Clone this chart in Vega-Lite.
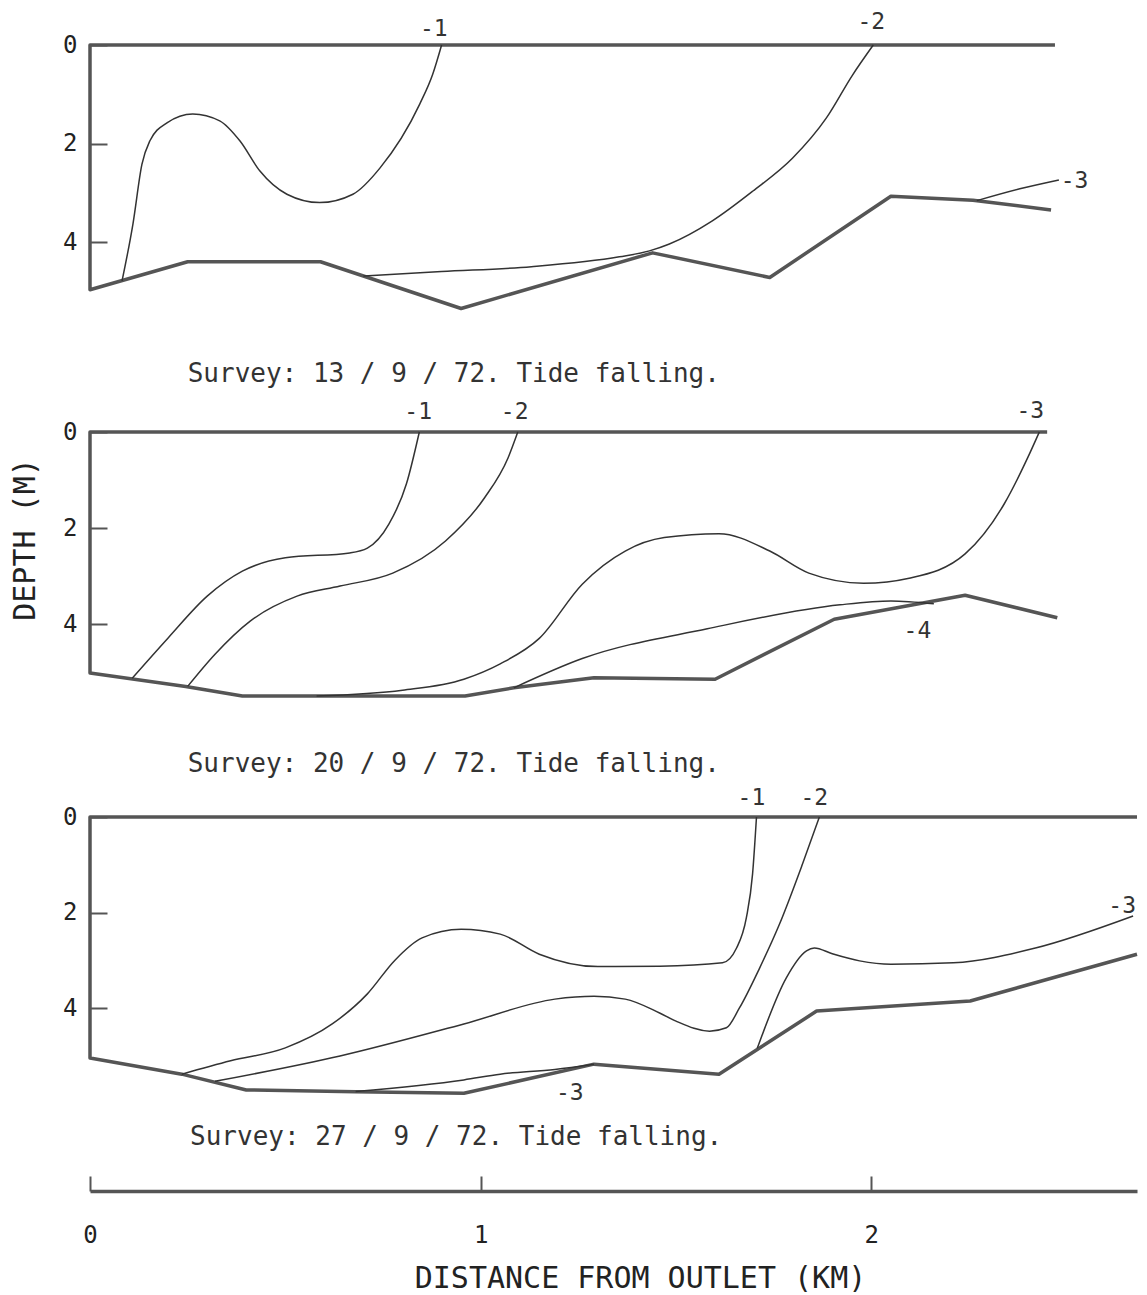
{
  "$schema": "https://vega.github.io/schema/vega-lite/v6.json",
  "background": "white",
  "padding": {"left": 10, "top": 10, "right": 5, "bottom": 5},
  "bounds": "flush",
  "spacing": 100,
  "config": {
    "view": {"stroke": null},
    "font": "DejaVu Sans Mono",
    "axis": {"grid": false, "labelColor": "#222", "titleColor": "#222", "titleFontWeight": "normal", "labelFlush": false}
  },
  "datasets": {
    "lines": [
      {"p":1,"s":"f","i":0,"x":2.47,"d":0},{"p":1,"s":"f","i":1,"x":0,"d":0},{"p":1,"s":"f","i":2,"x":0,"d":4.97},{"p":1,"s":"f","i":3,"x":0.25,"d":4.4},{"p":1,"s":"f","i":4,"x":0.59,"d":4.4},{"p":1,"s":"f","i":5,"x":0.95,"d":5.35},{"p":1,"s":"f","i":6,"x":1.44,"d":4.22},{"p":1,"s":"f","i":7,"x":1.74,"d":4.72},{"p":1,"s":"f","i":8,"x":2.05,"d":3.07},{"p":1,"s":"f","i":9,"x":2.26,"d":3.15},{"p":1,"s":"f","i":10,"x":2.46,"d":3.35},
      {"p":1,"s":"c1","i":0,"x":0.082,"d":4.79},{"p":1,"s":"c1","i":1,"x":0.11,"d":3.63},{"p":1,"s":"c1","i":2,"x":0.133,"d":2.42},{"p":1,"s":"c1","i":3,"x":0.153,"d":1.95},{"p":1,"s":"c1","i":4,"x":0.197,"d":1.58},{"p":1,"s":"c1","i":5,"x":0.263,"d":1.4},{"p":1,"s":"c1","i":6,"x":0.332,"d":1.54},{"p":1,"s":"c1","i":7,"x":0.384,"d":1.95},{"p":1,"s":"c1","i":8,"x":0.435,"d":2.56},{"p":1,"s":"c1","i":9,"x":0.504,"d":3.03},{"p":1,"s":"c1","i":10,"x":0.588,"d":3.2},{"p":1,"s":"c1","i":11,"x":0.673,"d":3.03},{"p":1,"s":"c1","i":12,"x":0.742,"d":2.5},{"p":1,"s":"c1","i":13,"x":0.844,"d":1.2},{"p":1,"s":"c1","i":14,"x":0.877,"d":0.6},{"p":1,"s":"c1","i":15,"x":0.9,"d":0},
      {"p":1,"s":"c2","i":0,"x":0.7,"d":4.69},{"p":1,"s":"c2","i":1,"x":0.9,"d":4.6},{"p":1,"s":"c2","i":2,"x":1.13,"d":4.5},{"p":1,"s":"c2","i":3,"x":1.355,"d":4.3},{"p":1,"s":"c2","i":4,"x":1.432,"d":4.18},{"p":1,"s":"c2","i":5,"x":1.483,"d":4.04},{"p":1,"s":"c2","i":6,"x":1.593,"d":3.57},{"p":1,"s":"c2","i":7,"x":1.696,"d":2.97},{"p":1,"s":"c2","i":8,"x":1.798,"d":2.3},{"p":1,"s":"c2","i":9,"x":1.885,"d":1.48},{"p":1,"s":"c2","i":10,"x":1.951,"d":0.62},{"p":1,"s":"c2","i":11,"x":2.005,"d":0},
      {"p":1,"s":"c3","i":0,"x":2.27,"d":3.16},{"p":1,"s":"c3","i":1,"x":2.38,"d":2.92},{"p":1,"s":"c3","i":2,"x":2.48,"d":2.74},

      {"p":2,"s":"f","i":0,"x":2.45,"d":0},{"p":2,"s":"f","i":1,"x":0,"d":0},{"p":2,"s":"f","i":2,"x":0,"d":5.02},{"p":2,"s":"f","i":3,"x":0.245,"d":5.3},{"p":2,"s":"f","i":4,"x":0.39,"d":5.5},{"p":2,"s":"f","i":5,"x":0.96,"d":5.5},{"p":2,"s":"f","i":6,"x":1.085,"d":5.33},{"p":2,"s":"f","i":7,"x":1.29,"d":5.12},{"p":2,"s":"f","i":8,"x":1.6,"d":5.15},{"p":2,"s":"f","i":9,"x":1.905,"d":3.9},{"p":2,"s":"f","i":10,"x":2.24,"d":3.4},{"p":2,"s":"f","i":11,"x":2.476,"d":3.87},
      {"p":2,"s":"c1","i":0,"x":0.108,"d":5.13},{"p":2,"s":"c1","i":1,"x":0.2,"d":4.29},{"p":2,"s":"c1","i":2,"x":0.3,"d":3.42},{"p":2,"s":"c1","i":3,"x":0.39,"d":2.9},{"p":2,"s":"c1","i":4,"x":0.5,"d":2.62},{"p":2,"s":"c1","i":5,"x":0.665,"d":2.52},{"p":2,"s":"c1","i":6,"x":0.71,"d":2.42},{"p":2,"s":"c1","i":7,"x":0.765,"d":1.92},{"p":2,"s":"c1","i":8,"x":0.81,"d":1.08},{"p":2,"s":"c1","i":9,"x":0.843,"d":0},
      {"p":2,"s":"c2","i":0,"x":0.25,"d":5.3},{"p":2,"s":"c2","i":1,"x":0.32,"d":4.63},{"p":2,"s":"c2","i":2,"x":0.41,"d":3.94},{"p":2,"s":"c2","i":3,"x":0.53,"d":3.42},{"p":2,"s":"c2","i":4,"x":0.64,"d":3.21},{"p":2,"s":"c2","i":5,"x":0.775,"d":2.94},{"p":2,"s":"c2","i":6,"x":0.91,"d":2.27},{"p":2,"s":"c2","i":7,"x":1.01,"d":1.37},{"p":2,"s":"c2","i":8,"x":1.07,"d":0.54},{"p":2,"s":"c2","i":9,"x":1.095,"d":0},
      {"p":2,"s":"c3","i":0,"x":0.58,"d":5.5},{"p":2,"s":"c3","i":1,"x":0.8,"d":5.38},{"p":2,"s":"c3","i":2,"x":0.957,"d":5.15},{"p":2,"s":"c3","i":3,"x":1.05,"d":4.83},{"p":2,"s":"c3","i":4,"x":1.15,"d":4.3},{"p":2,"s":"c3","i":5,"x":1.26,"d":3.17},{"p":2,"s":"c3","i":6,"x":1.37,"d":2.48},{"p":2,"s":"c3","i":7,"x":1.47,"d":2.2},{"p":2,"s":"c3","i":8,"x":1.61,"d":2.12},{"p":2,"s":"c3","i":9,"x":1.74,"d":2.48},{"p":2,"s":"c3","i":10,"x":1.84,"d":2.94},{"p":2,"s":"c3","i":11,"x":1.98,"d":3.15},{"p":2,"s":"c3","i":12,"x":2.1,"d":3.04},{"p":2,"s":"c3","i":13,"x":2.24,"d":2.54},{"p":2,"s":"c3","i":14,"x":2.34,"d":1.5},{"p":2,"s":"c3","i":15,"x":2.4,"d":0.54},{"p":2,"s":"c3","i":16,"x":2.43,"d":0},
      {"p":2,"s":"c4","i":0,"x":1.085,"d":5.33},{"p":2,"s":"c4","i":1,"x":1.26,"d":4.72},{"p":2,"s":"c4","i":2,"x":1.58,"d":4.1},{"p":2,"s":"c4","i":3,"x":1.92,"d":3.6},{"p":2,"s":"c4","i":4,"x":2.05,"d":3.52},{"p":2,"s":"c4","i":5,"x":2.16,"d":3.58},

      {"p":3,"s":"f","i":0,"x":2.68,"d":0},{"p":3,"s":"f","i":1,"x":0,"d":0},{"p":3,"s":"f","i":2,"x":0,"d":5.04},{"p":3,"s":"f","i":3,"x":0.235,"d":5.38},{"p":3,"s":"f","i":4,"x":0.4,"d":5.71},{"p":3,"s":"f","i":5,"x":0.68,"d":5.75},{"p":3,"s":"f","i":6,"x":0.957,"d":5.78},{"p":3,"s":"f","i":7,"x":1.29,"d":5.17},{"p":3,"s":"f","i":8,"x":1.61,"d":5.38},{"p":3,"s":"f","i":9,"x":1.86,"d":4.06},{"p":3,"s":"f","i":10,"x":2.253,"d":3.85},{"p":3,"s":"f","i":11,"x":2.68,"d":2.87},
      {"p":3,"s":"c1","i":0,"x":0.235,"d":5.38},{"p":3,"s":"c1","i":1,"x":0.36,"d":5.1},{"p":3,"s":"c1","i":2,"x":0.5,"d":4.83},{"p":3,"s":"c1","i":3,"x":0.62,"d":4.33},{"p":3,"s":"c1","i":4,"x":0.71,"d":3.7},{"p":3,"s":"c1","i":5,"x":0.78,"d":3.0},{"p":3,"s":"c1","i":6,"x":0.85,"d":2.53},{"p":3,"s":"c1","i":7,"x":0.95,"d":2.35},{"p":3,"s":"c1","i":8,"x":1.05,"d":2.45},{"p":3,"s":"c1","i":9,"x":1.15,"d":2.87},{"p":3,"s":"c1","i":10,"x":1.3,"d":3.13},{"p":3,"s":"c1","i":11,"x":1.458,"d":3.12},{"p":3,"s":"c1","i":12,"x":1.619,"d":3.05},{"p":3,"s":"c1","i":13,"x":1.655,"d":2.74},{"p":3,"s":"c1","i":14,"x":1.68,"d":2.11},{"p":3,"s":"c1","i":15,"x":1.696,"d":1.19},{"p":3,"s":"c1","i":16,"x":1.706,"d":0},
      {"p":3,"s":"c2","i":0,"x":0.32,"d":5.53},{"p":3,"s":"c2","i":1,"x":0.64,"d":5.0},{"p":3,"s":"c2","i":2,"x":0.957,"d":4.33},{"p":3,"s":"c2","i":3,"x":1.19,"d":3.81},{"p":3,"s":"c2","i":4,"x":1.29,"d":3.75},{"p":3,"s":"c2","i":5,"x":1.37,"d":3.81},{"p":3,"s":"c2","i":6,"x":1.458,"d":4.1},{"p":3,"s":"c2","i":7,"x":1.5,"d":4.27},{"p":3,"s":"c2","i":8,"x":1.586,"d":4.48},{"p":3,"s":"c2","i":9,"x":1.629,"d":4.41},{"p":3,"s":"c2","i":10,"x":1.662,"d":4.0},{"p":3,"s":"c2","i":11,"x":1.714,"d":3.16},{"p":3,"s":"c2","i":12,"x":1.765,"d":2.24},{"p":3,"s":"c2","i":13,"x":1.824,"d":0.98},{"p":3,"s":"c2","i":14,"x":1.867,"d":0},
      {"p":3,"s":"c3","i":0,"x":1.708,"d":4.84},{"p":3,"s":"c3","i":1,"x":1.782,"d":3.37},{"p":3,"s":"c3","i":2,"x":1.834,"d":2.8},{"p":3,"s":"c3","i":3,"x":1.854,"d":2.74},{"p":3,"s":"c3","i":4,"x":1.9,"d":2.86},{"p":3,"s":"c3","i":5,"x":1.97,"d":3.01},{"p":3,"s":"c3","i":6,"x":2.05,"d":3.08},{"p":3,"s":"c3","i":7,"x":2.21,"d":3.05},{"p":3,"s":"c3","i":8,"x":2.42,"d":2.74},{"p":3,"s":"c3","i":9,"x":2.67,"d":2.07},
      {"p":3,"s":"c3b","i":0,"x":0.68,"d":5.74},{"p":3,"s":"c3b","i":1,"x":0.957,"d":5.5},{"p":3,"s":"c3b","i":2,"x":1.05,"d":5.38},{"p":3,"s":"c3b","i":3,"x":1.19,"d":5.28},{"p":3,"s":"c3b","i":4,"x":1.29,"d":5.17}
    ],
    "labels": [
      {"p":1,"t":"-1","x":0.88,"d":-0.33},{"p":1,"t":"-2","x":2.0,"d":-0.47},{"p":1,"t":"-3","x":2.52,"d":2.76},
      {"p":2,"t":"-1","x":0.84,"d":-0.42},{"p":2,"t":"-2","x":1.087,"d":-0.42},{"p":2,"t":"-3","x":2.407,"d":-0.44},{"p":2,"t":"-4","x":2.118,"d":4.15},
      {"p":3,"t":"-1","x":1.693,"d":-0.4},{"p":3,"t":"-2","x":1.854,"d":-0.4},{"p":3,"t":"-3","x":2.642,"d":1.86},{"p":3,"t":"-3","x":1.228,"d":5.77}
    ],
    "captions": [
      {"p":1,"t":"Survey: 13 / 9 / 72. Tide falling.","x":0.25,"d":6.68},
      {"p":2,"t":"Survey: 20 / 9 / 72. Tide falling.","x":0.25,"d":6.92},
      {"p":3,"t":"Survey: 27 / 9 / 72. Tide falling.","x":0.256,"d":6.69}
    ]
  },
  "vconcat": [
    {
      "width": 1047, "height": 287,
      "encoding": {
        "x": {"field": "x", "type": "quantitative", "scale": {"domain": [0, 2.68], "nice": false, "zero": false}, "axis": null},
        "y": {"field": "d", "type": "quantitative", "scale": {"domain": [0, 5.827], "nice": false, "reverse": true, "zero": false},
              "axis": {"values": [0, 2, 4], "domain": false, "tickSize": -17, "tickWidth": 2, "tickColor": "#555", "labelFontSize": 24, "labelPadding": 30, "title": null}}
      },
      "layer": [
        {"data": {"name": "lines"}, "transform": [{"filter": "datum.p == 1 && datum.s == 'f'"}],
         "mark": {"type": "line", "color": "#555", "strokeWidth": 3.5, "strokeJoin": "round"}, "encoding": {"order": {"field": "i"}}},
        {"data": {"name": "lines"}, "transform": [{"filter": "datum.p == 1 && datum.s != 'f'"}],
         "mark": {"type": "line", "color": "#333", "strokeWidth": 1.5, "interpolate": "monotone"}, "encoding": {"order": {"field": "i"}, "detail": {"field": "s"}}},
        {"data": {"name": "labels"}, "transform": [{"filter": "datum.p == 1"}],
         "mark": {"type": "text", "fontSize": 23, "color": "#333", "baseline": "middle", "align": "center"}, "encoding": {"text": {"field": "t"}}},
        {"data": {"name": "captions"}, "transform": [{"filter": "datum.p == 1"}],
         "mark": {"type": "text", "fontSize": 26, "color": "#333", "baseline": "middle", "align": "left"}, "encoding": {"text": {"field": "t"}}}
      ]
    },
    {
      "width": 1047, "height": 285,
      "encoding": {
        "x": {"field": "x", "type": "quantitative", "scale": {"domain": [0, 2.68], "nice": false, "zero": false}, "axis": null},
        "y": {"field": "d", "type": "quantitative", "scale": {"domain": [0, 5.9375], "nice": false, "reverse": true, "zero": false},
              "axis": {"values": [0, 2, 4], "domain": false, "tickSize": -17, "tickWidth": 2, "tickColor": "#555", "labelFontSize": 24, "labelPadding": 30,
                       "title": "DEPTH (M)", "titleFontSize": 30, "titlePadding": 22, "titleY": 107}}
      },
      "layer": [
        {"data": {"name": "lines"}, "transform": [{"filter": "datum.p == 2 && datum.s == 'f'"}],
         "mark": {"type": "line", "color": "#555", "strokeWidth": 3.5, "strokeJoin": "round"}, "encoding": {"order": {"field": "i"}}},
        {"data": {"name": "lines"}, "transform": [{"filter": "datum.p == 2 && datum.s != 'f'"}],
         "mark": {"type": "line", "color": "#333", "strokeWidth": 1.5, "interpolate": "monotone"}, "encoding": {"order": {"field": "i"}, "detail": {"field": "s"}}},
        {"data": {"name": "labels"}, "transform": [{"filter": "datum.p == 2"}],
         "mark": {"type": "text", "fontSize": 23, "color": "#333", "baseline": "middle", "align": "center"}, "encoding": {"text": {"field": "t"}}},
        {"data": {"name": "captions"}, "transform": [{"filter": "datum.p == 2"}],
         "mark": {"type": "text", "fontSize": 26, "color": "#333", "baseline": "middle", "align": "left"}, "encoding": {"text": {"field": "t"}}}
      ]
    },
    {
      "width": 1047, "height": 374,
      "encoding": {
        "x": {"field": "x", "type": "quantitative", "scale": {"domain": [0, 2.68], "nice": false, "zero": false},
              "axis": {"values": [0, 1, 2], "domainColor": "#555", "domainWidth": 3.5, "tickSize": -15, "tickWidth": 2, "tickColor": "#555",
                       "labelFontSize": 24, "labelPadding": 47, "title": "DISTANCE FROM OUTLET (KM)", "titleFontSize": 30, "titlePadding": 16, "titleX": 550}},
        "y": {"field": "d", "type": "quantitative", "scale": {"domain": [0, 7.824], "nice": false, "reverse": true, "zero": false},
              "axis": {"values": [0, 2, 4], "domain": false, "tickSize": -17, "tickWidth": 2, "tickColor": "#555", "labelFontSize": 24, "labelPadding": 30, "title": null}}
      },
      "layer": [
        {"data": {"name": "lines"}, "transform": [{"filter": "datum.p == 3 && datum.s == 'f'"}],
         "mark": {"type": "line", "color": "#555", "strokeWidth": 3.5, "strokeJoin": "round"}, "encoding": {"order": {"field": "i"}}},
        {"data": {"name": "lines"}, "transform": [{"filter": "datum.p == 3 && datum.s != 'f'"}],
         "mark": {"type": "line", "color": "#333", "strokeWidth": 1.5, "interpolate": "monotone"}, "encoding": {"order": {"field": "i"}, "detail": {"field": "s"}}},
        {"data": {"name": "labels"}, "transform": [{"filter": "datum.p == 3"}],
         "mark": {"type": "text", "fontSize": 23, "color": "#333", "baseline": "middle", "align": "center"}, "encoding": {"text": {"field": "t"}}},
        {"data": {"name": "captions"}, "transform": [{"filter": "datum.p == 3"}],
         "mark": {"type": "text", "fontSize": 26, "color": "#333", "baseline": "middle", "align": "left"}, "encoding": {"text": {"field": "t"}}}
      ]
    }
  ]
}
